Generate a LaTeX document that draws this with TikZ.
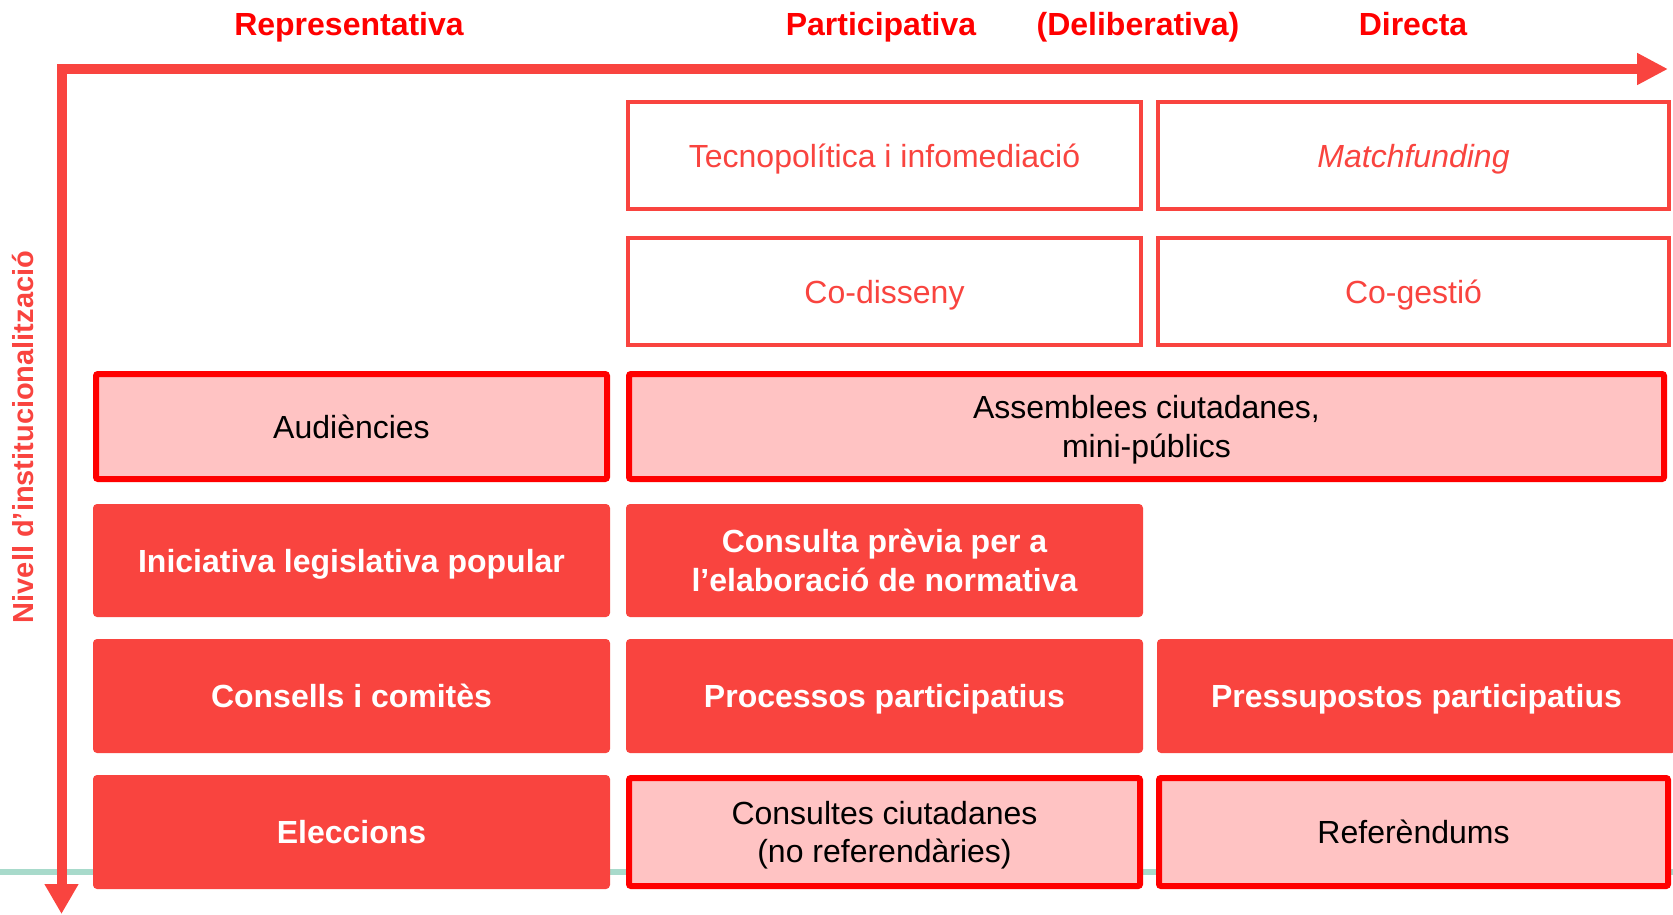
\documentclass[tikz,border=0pt]{standalone}
\usepackage{fontspec}
\setmainfont{Liberation Sans}
\usetikzlibrary{arrows.meta}
\definecolor{axisred}{HTML}{F9443F}
\definecolor{titlered}{HTML}{FF0000}
\definecolor{pinkfill}{HTML}{FFC3C3}
\definecolor{tealline}{HTML}{A8DACB}
\newcommand{\capstrut}{\rule{0pt}{23pt}}
\tikzset{
  boxtext/.style={font=\fontsize{32}{38.4}\selectfont, align=center, inner sep=0pt, text height=23pt, text depth=0pt},
  twoline/.style={text height={}, text depth={}},
  outbox/.style={boxtext, draw=axisred, line width=4pt, fill=white, text=axisred},
  pinkbox/.style={boxtext, draw=titlered, line width=6pt, fill=pinkfill, text=black, rounded corners=2pt},
  solidbox/.style={boxtext, fill=axisred, text=white, font=\fontsize{32}{38.4}\selectfont\bfseries, rounded corners=4pt},
  titletext/.style={text=titlered, font=\fontsize{32}{38.4}\selectfont\bfseries, anchor=base, inner sep=0pt},
  axis/.style={draw=axisred, line width=10pt, line join=miter},
}
\begin{document}
\begin{tikzpicture}[x=1pt,y=-1pt]
\path[use as bounding box] (0,0) rectangle (1673,914);
% teal base line
\coordinate (tl) at (0,872);
\coordinate (tr) at (1673,872);
\draw[tealline, line width=6pt] (tl) -- (tr);
% axes
\coordinate (corner) at (61.5,69);
\coordinate (xend) at (1668,69);
\coordinate (yend) at (61.5,914);
\draw[axis, {Triangle[length=30pt,width=32pt]}-{Triangle[length=31pt,width=30pt]}] (yend) -- (corner) -- (xend);
% titles
\node[titletext] (trep) at (349,35) {Representativa};
\node[titletext] (tpart) at (881,35) {Participativa};
\node[titletext] (tdel) at (1138,35) {(Deliberativa)};
\node[titletext] (tdir) at (1413,35) {Directa};
\node[rotate=90, anchor=base, inner sep=0pt, text=axisred, font=\fontsize{29}{34}\selectfont\bfseries] (ylabel) at (33,437) {Nivell d’institucionalització};
% row 1-2
\node[outbox, minimum width=513pt, minimum height=107pt] (tecno) at (884.5,155.5) {Tecnopolítica i infomediació};
\node[outbox, minimum width=511pt, minimum height=107pt] (match) at (1413.5,155.5) {\itshape Matchfunding};
\node[outbox, minimum width=513pt, minimum height=107pt] (codis) at (884.5,291.5) {Co-disseny};
\node[outbox, minimum width=511pt, minimum height=107pt] (coges) at (1413.5,291.5) {Co-gestió};
% row 3
\node[pinkbox, minimum width=511pt, minimum height=105pt] (audi) at (351.5,426.5) {Audiències};
\node[pinkbox, twoline, minimum width=1035pt, minimum height=105pt] (assem) at (1146.5,426.5) {\capstrut\smash{Assemblees ciutadanes,}\\ \smash{mini-públics}};
% row 4
\node[solidbox, minimum width=517pt, minimum height=113pt] (inic) at (351.5,560.5) {Iniciativa legislativa popular};
\node[solidbox, twoline, minimum width=517pt, minimum height=113pt] (consprev) at (884.5,560.5) {\capstrut\smash{Consulta prèvia per a}\\ \smash{l’elaboració de normativa}};
% row 5
\node[solidbox, minimum width=517pt, minimum height=114pt] (consells) at (351.5,696) {Consells i comitès};
\node[solidbox, minimum width=517pt, minimum height=114pt] (process) at (884.5,696) {Processos participatius};
\node[solidbox, minimum width=519pt, minimum height=114pt] (pressu) at (1416.5,696) {Pressupostos participatius};
% row 6
\node[solidbox, minimum width=517pt, minimum height=114pt] (elecc) at (351.5,832) {Eleccions};
\node[pinkbox, twoline, minimum width=511pt, minimum height=108pt] (consult) at (884.5,832) {\capstrut\smash{Consultes ciutadanes}\\ \smash{(no referendàries)}};
\node[pinkbox, minimum width=509pt, minimum height=108pt] (refer) at (1413.5,832) {Referèndums};
\end{tikzpicture}
\end{document}
